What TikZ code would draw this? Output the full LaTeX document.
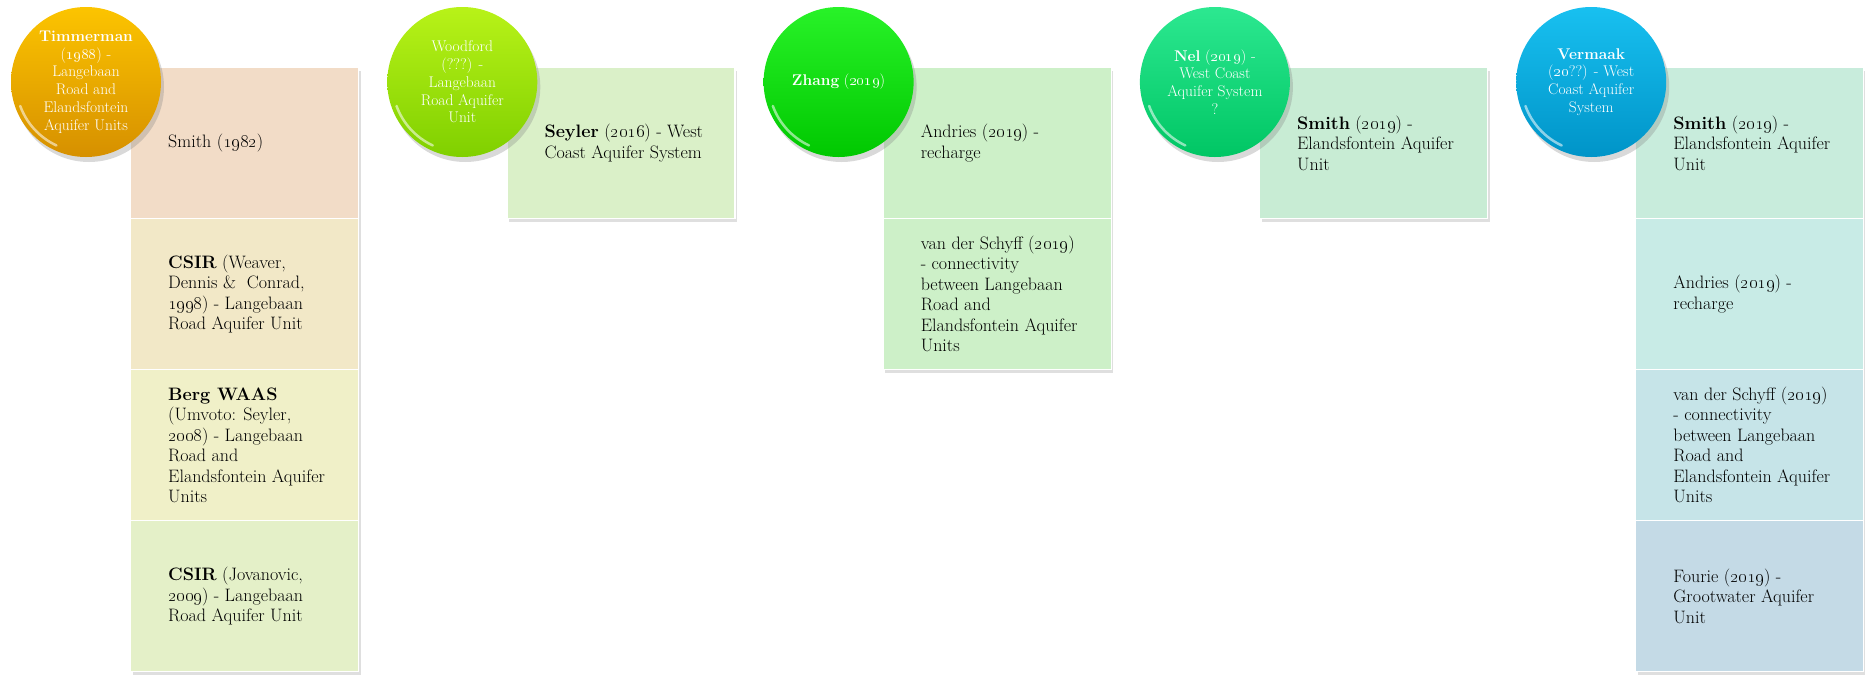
\RequirePackage{fix-cm}
\documentclass[tikz,border=0pt]{standalone}
\usetikzlibrary{shadows}
\definecolor{cAa}{RGB}{252,196,0}\definecolor{cAb}{RGB}{214,144,0}
\definecolor{cBa}{RGB}{184,242,24}\definecolor{cBb}{RGB}{128,208,0}
\definecolor{cCa}{RGB}{40,242,40}\definecolor{cCb}{RGB}{0,200,0}
\definecolor{cDa}{RGB}{44,232,144}\definecolor{cDb}{RGB}{0,198,100}
\definecolor{cEa}{RGB}{24,192,240}\definecolor{cEb}{RGB}{0,148,200}
\definecolor{fAa}{RGB}{242,220,199}\definecolor{fAb}{RGB}{242,232,199}
\definecolor{fAc}{RGB}{240,240,200}\definecolor{fAd}{RGB}{228,240,200}
\definecolor{fB}{RGB}{218,240,200}
\definecolor{fC}{RGB}{205,240,200}
\definecolor{fD}{RGB}{200,236,212}
\definecolor{fEa}{RGB}{200,236,220}\definecolor{fEb}{RGB}{200,235,230}
\definecolor{fEc}{RGB}{198,228,232}\definecolor{fEd}{RGB}{196,218,230}
\newcommand\yr[1]{\oldstylenums{#1}}
\begin{document}
\begin{tikzpicture}[x=1pt,y=1pt,
  box/.style={draw=white, line width=1.2pt, minimum width=228pt, minimum height=151pt,
    inner sep=0pt, anchor=north west,
    drop shadow={shadow xshift=2pt, shadow yshift=-3pt, opacity=0.25}},
  btext/.style={anchor=west, align=left, font=\fontsize{18}{20.5}\selectfont, inner sep=0pt, text=black},
  bubble/.style={circle, minimum size=150pt, inner sep=0pt, align=center, text=white,
    font=\fontsize{15.5}{17.7}\selectfont,
    drop shadow={shadow xshift=3pt, shadow yshift=-5pt, opacity=0.3}},
  gloss/.style={white, opacity=0.55, line width=2.5pt, line cap=round}]
\useasboundingbox (0,0) rectangle (1865,-675);
% ---------- column 1 ----------
\node[box, fill=fAa] (b11) at (130,-67) {};
\node[box, fill=fAb] (b12) at (130,-218) {};
\node[box, fill=fAc] (b13) at (130,-369) {};
\node[box, fill=fAd] (b14) at (130,-520) {};
\node[btext] (t11) at ([xshift=38pt]b11.west) {Smith (\yr{1982})};
\node[btext] (t12) at ([xshift=38pt]b12.west) {\textbf{CSIR} (Weaver,\\Dennis \&\ \ Conrad,\\\yr{1998}) - Langebaan\\Road Aquifer Unit};
\node[btext] (t13) at ([xshift=38pt]b13.west) {\textbf{Berg WAAS}\\(Umvoto: Seyler,\\\yr{2008}) - Langebaan\\Road and\\Elandsfontein Aquifer\\Units};
\node[btext] (t14) at ([xshift=38pt]b14.west) {\textbf{CSIR} (Jovanovic,\\\yr{2009}) - Langebaan\\Road Aquifer Unit};
% ---------- column 2 ----------
\node[box, fill=fB] (b21) at (506.3,-67) {};
\node[btext] (t21) at ([xshift=38pt]b21.west) {\textbf{Seyler} (\yr{2016}) - West\\Coast Aquifer System};
% ---------- column 3 ----------
\node[box, fill=fC] (b31) at (882.6,-67) {};
\node[box, fill=fC] (b32) at (882.6,-218) {};
\node[btext] (t31) at ([xshift=38pt]b31.west) {Andries (\yr{2019}) -\\recharge};
\node[btext] (t32) at ([xshift=38pt]b32.west) {van der Schyff (\yr{2019})\\- connectivity\\between Langebaan\\Road and\\Elandsfontein Aquifer\\Units};
% ---------- column 4 ----------
\node[box, fill=fD] (b41) at (1258.9,-67) {};
\node[btext] (t41) at ([xshift=38pt]b41.west) {\textbf{Smith} (\yr{2019}) -\\Elandsfontein Aquifer\\Unit};
% ---------- column 5 ----------
\node[box, fill=fEa] (b51) at (1635.2,-67) {};
\node[box, fill=fEb] (b52) at (1635.2,-218) {};
\node[box, fill=fEc] (b53) at (1635.2,-369) {};
\node[box, fill=fEd] (b54) at (1635.2,-520) {};
\node[btext] (t51) at ([xshift=38pt]b51.west) {\textbf{Smith} (\yr{2019}) -\\Elandsfontein Aquifer\\Unit};
\node[btext] (t52) at ([xshift=38pt]b52.west) {Andries (\yr{2019}) -\\recharge};
\node[btext] (t53) at ([xshift=38pt]b53.west) {van der Schyff (\yr{2019})\\- connectivity\\between Langebaan\\Road and\\Elandsfontein Aquifer\\Units};
\node[btext] (t54) at ([xshift=38pt]b54.west) {Fourie (\yr{2019}) -\\Grootwater Aquifer\\Unit};
% ---------- circles ----------
\node[bubble, top color=cAa, bottom color=cAb] (c1) at (86,-82)
  {\textbf{Timmerman}\\(\yr{1988}) -\\Langebaan\\Road and\\Elandsfontein\\Aquifer Units};
\node[bubble, top color=cBa, bottom color=cBb] (c2) at (462.3,-82)
  {Woodford\\(???) -\\Langebaan\\Road Aquifer\\Unit};
\node[bubble, top color=cCa, bottom color=cCb] (c3) at (838.6,-82)
  {\textbf{Zhang} (\yr{2019})};
\node[bubble, top color=cDa, bottom color=cDb] (c4) at (1214.9,-82)
  {\textbf{Nel} (\yr{2019}) -\\West Coast\\Aquifer System\\?};
\node[bubble, top color=cEa, bottom color=cEb] (c5) at (1591.2,-82)
  {\textbf{Vermaak}\\(\yr{20}??) - West\\Coast Aquifer\\System};
\foreach \c in {c1,c2,c3,c4,c5}{
  \draw[gloss] ([shift={(200:70pt)}]\c.center) arc[start angle=200, end angle=245, radius=70pt];
}
\end{tikzpicture}
\end{document}
